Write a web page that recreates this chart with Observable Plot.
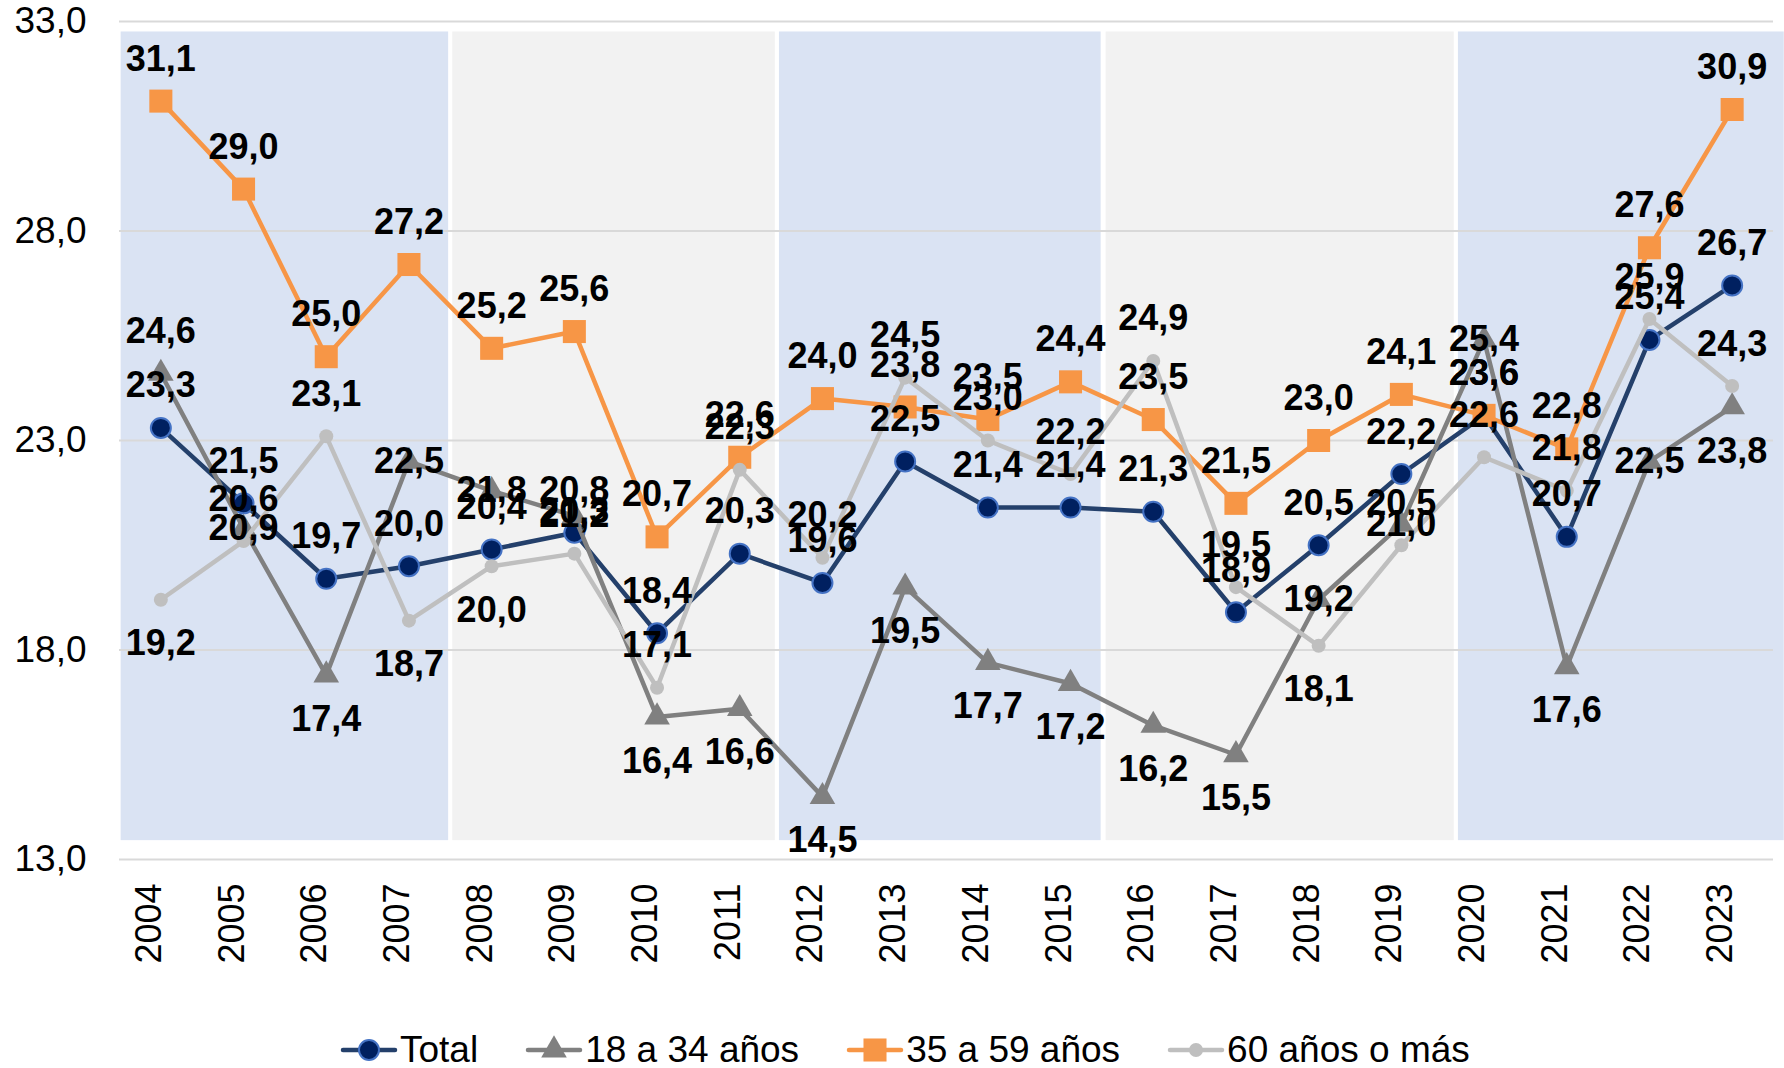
<!DOCTYPE html>
<html>
<head>
<meta charset="utf-8">
<script src="https://cdn.jsdelivr.net/npm/d3@7"></script>
<script src="https://cdn.jsdelivr.net/npm/@observablehq/plot@0.6"></script>
<style>
  html, body { margin: 0; padding: 0; background: #fff; }
  #wrap { position: relative; width: 1784px; height: 1068px; font-family: "Liberation Sans", Arial, sans-serif; }
  #legend { position: absolute; left: 341px; top: 1030px; height: 40px; display: flex; align-items: center;
            font-size: 37px; line-height: 40px; color: #000; white-space: nowrap; }
  .item { display: flex; align-items: center; margin-right: 48px; }
  .item svg { margin-right: 3px; overflow: visible; }
</style>
</head>
<body>
<div id="wrap"><div id="chart"></div><div id="legend"></div></div>
<script>
// ---- data ----
const years = [2004, 2005, 2006, 2007, 2008, 2009, 2010, 2011, 2012, 2013,
               2014, 2015, 2016, 2017, 2018, 2019, 2020, 2021, 2022, 2023];
const total    = [23.3, 21.5, 19.7, 20.0, 20.4, 20.8, 18.4, 20.3, 19.6, 22.5,
                  21.4, 21.4, 21.3, 18.9, 20.5, 22.2, 23.6, 20.7, 25.4, 26.7];
const age18_34 = [24.6, 20.9, 17.4, 22.5, 21.8, 21.2, 16.4, 16.6, 14.5, 19.5,
                  17.7, 17.2, 16.2, 15.5, 19.2, 21.0, 25.4, 17.6, 22.5, 23.8];
const age35_59 = [31.1, 29.0, 25.0, 27.2, 25.2, 25.6, 20.7, 22.6, 24.0, 23.8,
                  23.5, 24.4, 23.5, 21.5, 23.0, 24.1, 23.6, 22.8, 27.6, 30.9];
const age60    = [19.2, 20.6, 23.1, 18.7, 20.0, 20.3, 17.1, 22.3, 20.2, 24.5,
                  23.0, 22.2, 24.9, 19.5, 18.1, 20.5, 22.6, 21.8, 25.9, 24.3];
const seriesNames = ["Total", "18 a 34 años", "35 a 59 años", "60 años o más"];
const yTicks = [13, 18, 23, 28, 33];

// background period bands (in year units)
const bandStart = [2003.52, 2007.53, 2011.48, 2015.43, 2019.69];
const bandEnd   = [2007.48, 2011.43, 2015.37, 2019.64, 2023.63];
const bandLow = 13.45, bandHigh = 32.75;
const bandFill  = ["#DAE3F3", "#F2F2F2", "#DAE3F3", "#F2F2F2", "#DAE3F3"];

// label placement (a = above, b = below, c = centered)
const posTotal = Array(20).fill("a");
const pos18_34 = ["a","c","b","c","c","c","b","b","b","b","b","b","b","b","c","c","c","b","c","b"];
const pos35_59 = Array(20).fill("a");
const pos60    = ["b","a","a","b","b","a","a","a","a","a","a","a","a","a","b","a","a","a","a","a"];

// ---- styles ----
const styles = [
  {values: total,    pos: posTotal, line: "#24406B", symbol: "circle",   r: 10,  fill: "#002060", stroke: "#4472C4", sw: 2},
  {values: age18_34, pos: pos18_34, line: "#808080", symbol: "triangle", r: 9.5, fill: "#808080", stroke: "none",    sw: 0},
  {values: age35_59, pos: pos35_59, line: "#F79646", symbol: "square",   r: 13,  fill: "#F79646", stroke: "none",    sw: 0},
  {values: age60,    pos: pos60,    line: "#BFBFBF", symbol: "circle",   r: 7,   fill: "#BFBFBF", stroke: "none",    sw: 0}
];

const fmt = v => v.toFixed(1).replace(".", ",");
const bands = bandStart.map((s, i) => ({x1: s, x2: bandEnd[i], fill: bandFill[i]}));
const tables = styles.map(s => years.map((y, i) => ({year: y, value: s.values[i], pos: s.pos[i]})));

const marks = [
  Plot.rect(bands, {x1: "x1", x2: "x2", y1: () => bandLow, y2: () => bandHigh, fill: "fill"}),
  Plot.ruleY(yTicks, {stroke: "#D9D9D9", strokeWidth: 2}),
  Plot.axisY(yTicks, {tickFormat: fmt, tickSize: 0, tickPadding: 33, fontSize: 37, fill: "#000", label: null}),
  Plot.text(years, {x: d => d, frameAnchor: "bottom", dy: 24, rotate: -90, textAnchor: "end",
                    text: d => String(d), fontSize: 36, fill: "#000"})
];
styles.forEach((s, k) => {
  marks.push(Plot.line(tables[k], {x: "year", y: "value", stroke: s.line, strokeWidth: 4.5}));
  marks.push(Plot.dot(tables[k], {x: "year", y: "value", symbol: () => s.symbol, r: s.r,
                                   fill: s.fill, stroke: s.stroke, strokeWidth: s.sw}));
});
const offsets = {a: -42, b: 44, c: 0};
styles.forEach((s, k) => {
  ["a", "b", "c"].forEach(p => {
    marks.push(Plot.text(tables[k].filter(d => d.pos === p), {
      x: "year", y: "value", text: d => fmt(d.value), dy: offsets[p],
      fontSize: 36, fontWeight: "bold", fill: "#000"
    }));
  });
});

const chart = Plot.plot({
  width: 1784,
  height: 1020,
  marginTop: 21,
  marginBottom: 161,
  marginLeft: 119,
  marginRight: 11,
  style: {fontFamily: "'Liberation Sans', Arial, sans-serif", fontSize: "36px", color: "#000", background: "#fff"},
  x: {type: "linear", domain: [2003.5, 2023.5], axis: null},
  y: {domain: [13, 33], label: null},
  symbol: {type: "identity"},
  marks
});
document.getElementById("chart").appendChild(chart);

// ---- legend ----
const legend = d3.select("#legend");
styles.forEach((s, k) => {
  const item = legend.append("div").attr("class", "item");
  const svg = item.append("svg").attr("width", 56).attr("height", 30);
  svg.append("line").attr("x1", 2).attr("x2", 54).attr("y1", 15).attr("y2", 15)
     .attr("stroke", s.line).attr("stroke-width", 4.5).attr("stroke-linecap", "round");
  const sym = {circle: d3.symbolCircle, triangle: d3.symbolTriangle, square: d3.symbolSquare}[s.symbol];
  svg.append("path").attr("transform", "translate(28,15)")
     .attr("d", d3.symbol(sym, Math.PI * s.r * s.r)())
     .attr("fill", s.fill).attr("stroke", s.stroke).attr("stroke-width", s.sw);
  item.append("span").text(seriesNames[k]);
});
</script>
</body>
</html>
